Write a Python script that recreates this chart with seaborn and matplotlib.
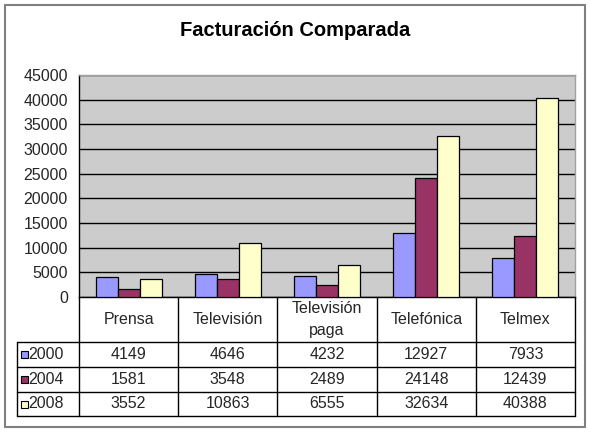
import matplotlib
matplotlib.use("Agg")
import matplotlib.pyplot as plt
import matplotlib.transforms as mtransforms
from matplotlib.patches import Rectangle
import seaborn as sns
import pandas as pd

# datos de la tabla
categorias = ["Prensa", "Televisión", "Televisión\npaga", "Telefónica", "Telmex"]
anios = ["2000", "2004", "2008"]
valores_2000 = [4149, 4646, 4232, 12927, 7933]
valores_2004 = [1581, 3548, 2489, 24148, 12439]
valores_2008 = [3552, 10863, 6555, 32634, 40388]
colores = ["#9999FF", "#993366", "#FFFFCC"]
yticks = [0, 5000, 10000, 15000, 20000, 25000, 30000, 35000, 40000, 45000]

series = [valores_2000, valores_2004, valores_2008]
df = pd.DataFrame({
    "categoria": categorias * 3,
    "anio": [a for a in anios for _ in categorias],
    "valor": valores_2000 + valores_2004 + valores_2008,
})

sns.set_style("white")
plt.rcParams["font.family"] = ["Liberation Sans", "DejaVu Sans"]

W, H = 590, 432
fig = plt.figure(figsize=(W / 100, H / 100), dpi=100)

def fx(px):
    return px / W

def fy(py):
    return 1 - py / H

ax = fig.add_axes([fx(79), fy(297), fx(575) - fx(79), fy(75) - fy(297)])
ax.set_facecolor("#CCCCCC")

sns.barplot(data=df, x="categoria", y="valor", hue="anio", palette=colores,
            width=0.667, edgecolor="black", linewidth=0.9, saturation=1,
            ax=ax, legend=False, zorder=3)

ax.set_ylim(0, 45000)
ax.set_xlim(-0.5, len(categorias) - 0.5)
ax.set_yticks(yticks)
ax.set_yticklabels([str(t) for t in yticks], fontsize=11.5)
ax.yaxis.grid(True, color="black", linewidth=1)
ax.set_axisbelow(True)
ax.set_xticks([])
ax.set_xlabel("")
ax.set_ylabel("")
ax.tick_params(axis="y", length=5, width=1, color="black", direction="out", pad=3)
for side in ["top", "right"]:
    ax.spines[side].set_color("#A0A0A0")
    ax.spines[side].set_linewidth(1)
ax.spines["left"].set_color("black")
ax.spines["bottom"].set_color("black")
ax.spines["left"].set_linewidth(1)
ax.spines["bottom"].set_linewidth(1)

# tabla de datos bajo el eje
trans = mtransforms.blended_transform_factory(ax.transData, fig.transFigure)
n = len(categorias)
filas_y = [fy(297), fy(342), fy(367), fy(392), fy(416)]
x_izq = fx(16.5)

def linea(xs, ys, tr):
    fig.add_artist(plt.Line2D(xs, ys, transform=tr, color="black", linewidth=1))

# lineas horizontales
for yv in filas_y[1:]:
    linea([x_izq, fx(575)], [yv, yv], fig.transFigure)
# lineas verticales en los bordes de categoria
for i in range(n + 1):
    linea([i - 0.5, i - 0.5], [filas_y[0], filas_y[-1]], trans)
linea([x_izq, x_izq], [filas_y[1], filas_y[-1]], fig.transFigure)

# encabezados
for i, cat in enumerate(categorias):
    fig.text(i, (filas_y[0] + filas_y[1]) / 2, cat, transform=trans,
             ha="center", va="center", fontsize=11.5, linespacing=1.65)

# filas de valores con leyenda
for r, (anio, vals, col) in enumerate(zip(anios, series, colores)):
    yc = (filas_y[r + 1] + filas_y[r + 2]) / 2
    fig.add_artist(Rectangle((fx(20.5), yc - 3.5 / H), 7 / W, 7 / H,
                             transform=fig.transFigure, facecolor=col,
                             edgecolor="black", linewidth=0.8))
    fig.text(fx(28.5), yc, anio, ha="left", va="center", fontsize=11.5)
    for i, v in enumerate(vals):
        fig.text(i, yc, str(v), transform=trans, ha="center", va="center",
                 fontsize=11.5)

fig.text(0.5, fy(30), "Facturación Comparada", ha="center", va="center",
         fontsize=14.5, fontweight="bold", color="black")

# borde del grafico
fig.add_artist(Rectangle((fx(5), fy(427)), fx(585) - fx(5), fy(5) - fy(427),
                         transform=fig.transFigure, facecolor="none",
                         edgecolor="#808080", linewidth=1.5))

fig.savefig("out.png", dpi=100)
